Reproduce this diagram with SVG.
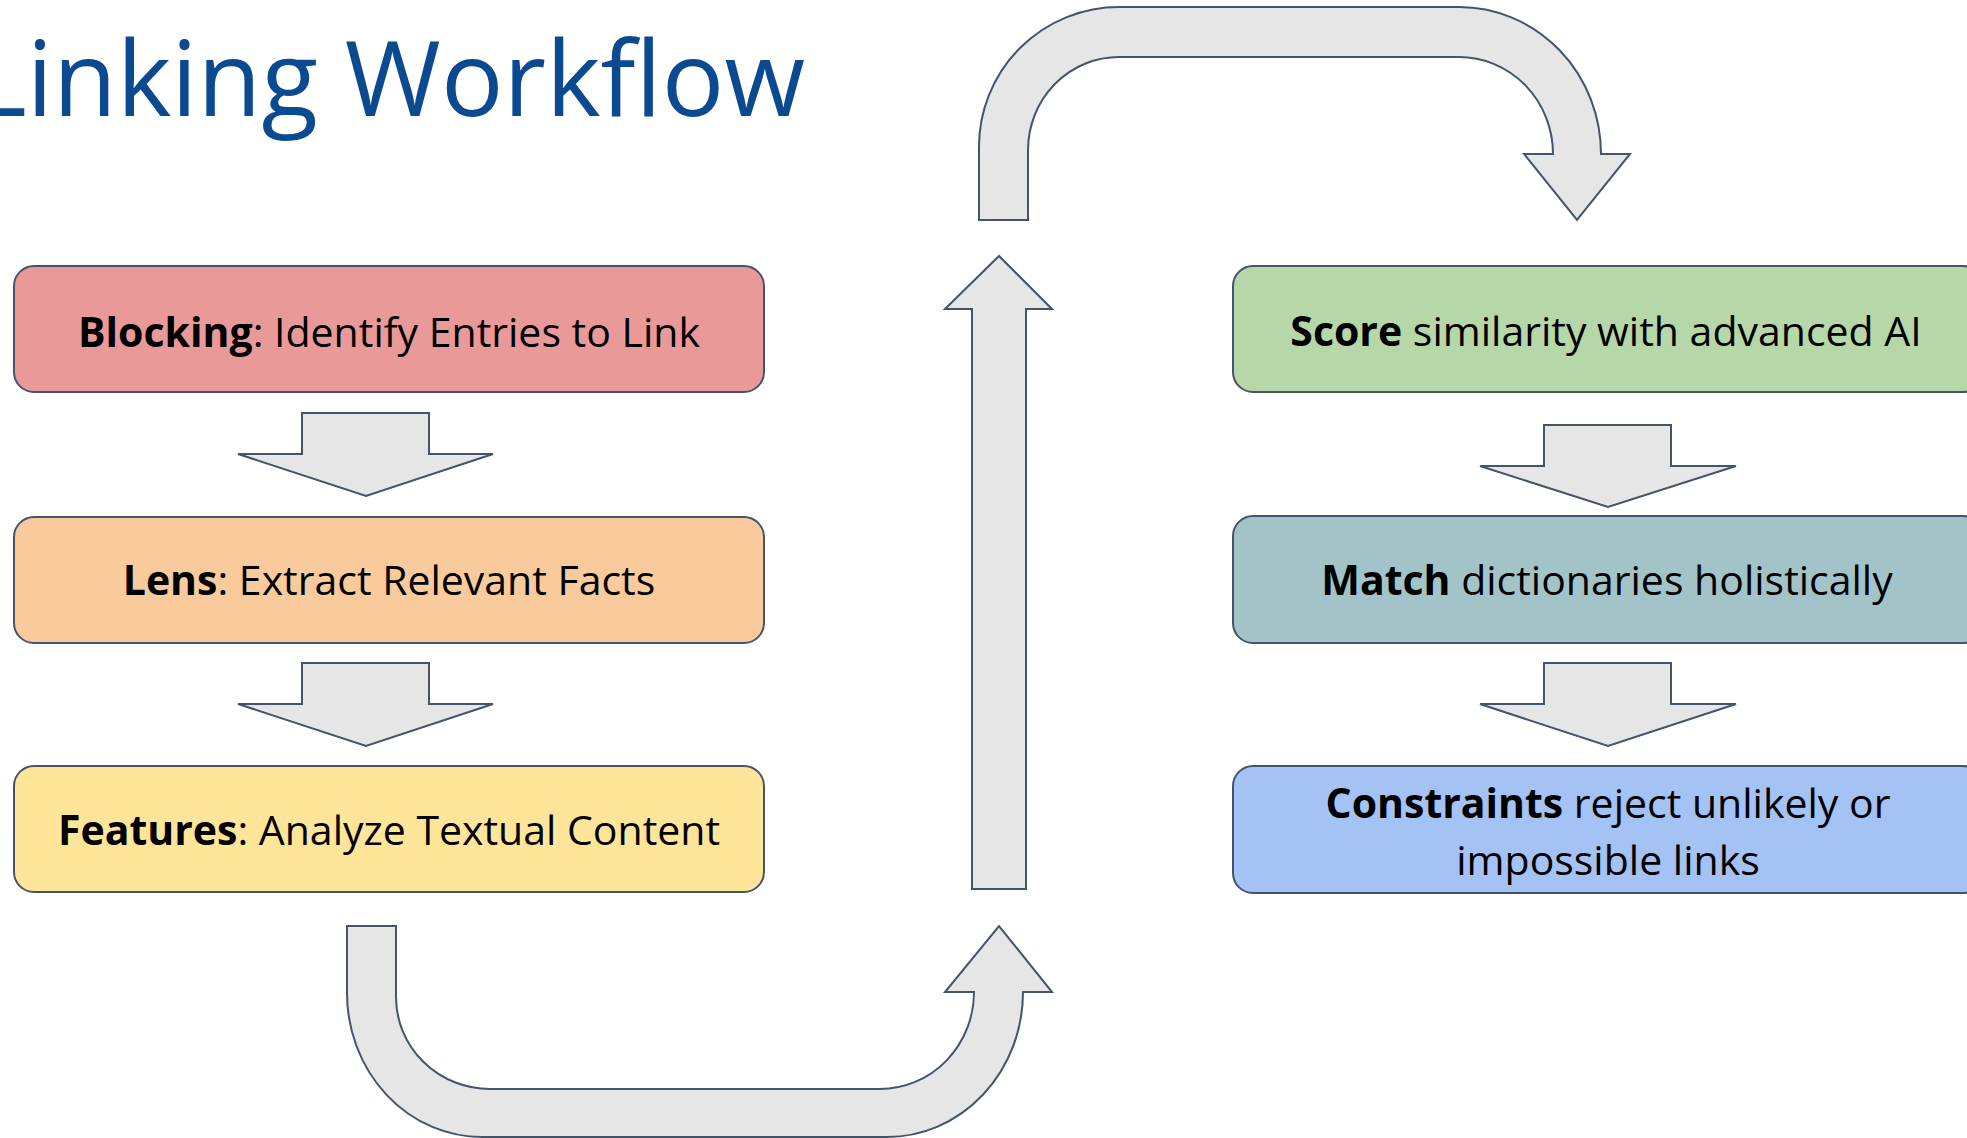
<svg xmlns="http://www.w3.org/2000/svg" width="1967" height="1138" viewBox="0 0 1967 1138">
<style>
.box{stroke:#44546a;stroke-width:2}
.arr{fill:#e6e6e6;stroke:#44546a;stroke-width:2;stroke-linejoin:miter}
.lbl{font-family:"Open Sans","Liberation Sans",sans-serif;font-size:41px;fill:#000;text-anchor:middle}
.b{font-weight:bold}
.title{font-family:"Open Sans","Liberation Sans",sans-serif;font-size:104px;fill:#0b4a91;text-anchor:end}
</style>
<rect width="1967" height="1138" fill="#ffffff"/>
<text class="title" x="805" y="116">Linking Workflow</text>

<g id="connectors">
<polygon class="arr" points="302,413 429,413 429,454 493,454 366,496 238,454 302,454"/>
<polygon class="arr" points="302,663 429,663 429,704 493,704 366,746 238,704 302,704"/>
<polygon class="arr" points="1544,425 1671,425 1671,466 1736,466 1608,507 1480,466 1544,466"/>
<polygon class="arr" points="1544,663 1671,663 1671,704 1736,704 1608,746 1480,704 1544,704"/>
<path class="arr" d="M347,926 L396,926 L396,997 A94,92 0 0 0 490,1089 L880,1089 A94,97 0 0 0 974,992 L945,992 L999,926 L1052,992 L1023,992 A136,145 0 0 1 887,1137 L482,1137 A135,144 0 0 1 347,993 Z"/>
<polygon class="arr" points="972,889 1026,889 1026,309 1052,309 999,256 945,309 972,309"/>
<path class="arr" d="M979,220 L979,147 A140,140 0 0 1 1119,7 L1459,7 A142,147 0 0 1 1601,154 L1630,154 L1577,220 L1524,154 L1553,154 A94,97 0 0 0 1459,57 L1119,57 A91,93 0 0 0 1028,150 L1028,220 Z"/>
</g>

<g id="blocking">
<rect class="box" x="14" y="266" width="750" height="126" rx="20" fill="#ea9999"/>
<text class="lbl" x="389" y="347"><tspan class="b">Blocking</tspan>: Identify Entries to Link</text>
</g>
<g id="lens">
<rect class="box" x="14" y="517" width="750" height="126" rx="20" fill="#f9cb9c"/>
<text class="lbl" x="389" y="595"><tspan class="b">Lens</tspan>: Extract Relevant Facts</text>
</g>
<g id="features">
<rect class="box" x="14" y="766" width="750" height="126" rx="20" fill="#ffe599"/>
<text class="lbl" x="389" y="845"><tspan class="b">Features</tspan>: Analyze Textual Content</text>
</g>
<g id="score">
<rect class="box" x="1233" y="266" width="750" height="126" rx="20" fill="#b6d7a8"/>
<text class="lbl" x="1606" y="346"><tspan class="b">Score</tspan> similarity with advanced AI</text>
</g>
<g id="match">
<rect class="box" x="1233" y="516" width="750" height="127" rx="20" fill="#a2c4c9"/>
<text class="lbl" x="1607" y="595"><tspan class="b">Match</tspan> dictionaries holistically</text>
</g>
<g id="constraints">
<rect class="box" x="1233" y="766" width="750" height="127" rx="20" fill="#a4c2f4"/>
<text class="lbl" x="1608" y="818"><tspan class="b">Constraints</tspan> reject unlikely or</text>
<text class="lbl" x="1608" y="875">impossible links</text>
</g>
</svg>
